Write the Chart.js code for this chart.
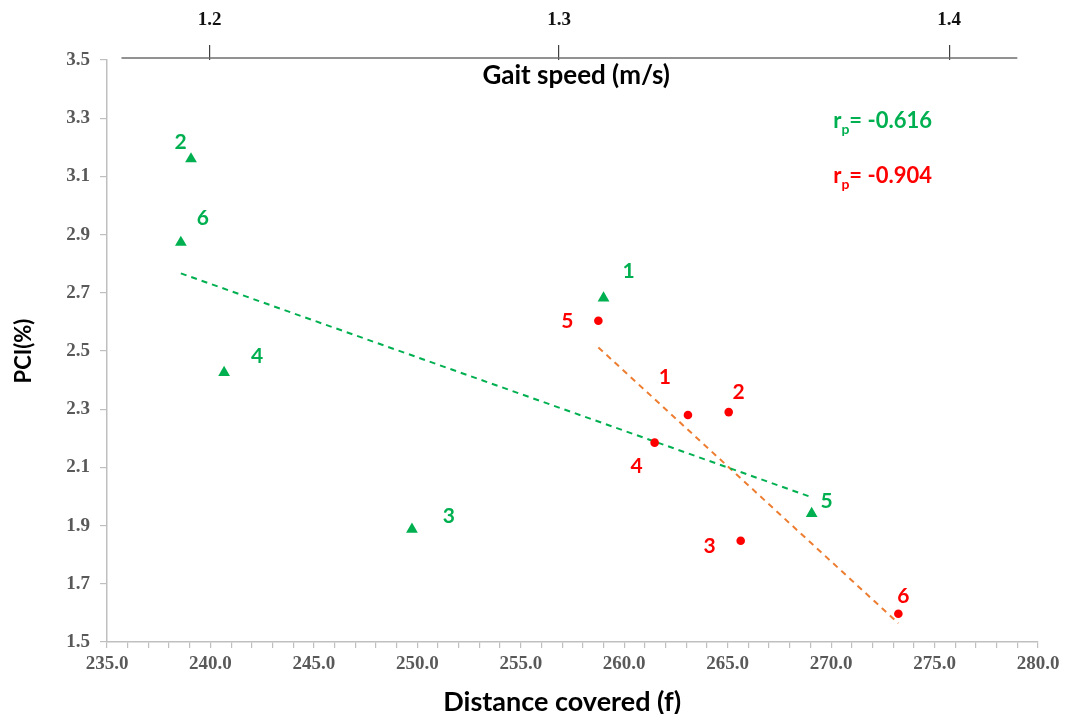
<!DOCTYPE html>
<html>
<head>
<meta charset="utf-8">
<script src="https://cdn.jsdelivr.net/npm/chart.js@4.4.1/dist/chart.umd.min.js"></script>
<style>
  html, body { margin: 0; padding: 0; background: #ffffff; }
  #wrap { width: 1077px; height: 714px; position: relative; }
</style>
</head>
<body>
<div id="wrap"><canvas id="c"></canvas></div>
<script>
// ---- data ----
const pointIds = ['1', '2', '3', '4', '5', '6'];
const greenDistance = [259.0, 239.06, 249.74, 240.66, 269.06, 238.57];
const greenPCI = [2.682, 3.160, 1.887, 2.426, 1.941, 2.873];
const redDistance = [263.08, 265.05, 265.63, 261.47, 258.75, 273.25];
const redPCI = [2.280, 2.290, 1.848, 2.185, 2.604, 1.597];
const gaitTickLabels = ['1.2', '1.3', '1.4'];
const gaitTickAt = [239.96, 256.85, 275.71];   // where the gait-speed ticks fall on the distance scale
const gaitAxisSpan = [235.7, 279.0];
const rGreen = '-0.616';
const rRed = '-0.904';

// ---- styles ----
const GREEN = '#00b050';
const RED = '#ff0000';
const ORANGE = '#ed7d31';
const greenLabelOffsets = [[25, -27], [-10.5, -17], [37, -13.5], [33, -16], [15, -12], [22, -24]];
const redLabelOffsets = [[-23, -38], [10, -19.5], [-31, 5.5], [-18, 24], [-31, 0], [5, -18]];

function toPoints(xs, ys) { return xs.map((x, i) => ({ x: x, y: ys[i] })); }
function trend(xs, ys) {
  const n = xs.length;
  const mx = xs.reduce((a, b) => a + b, 0) / n;
  const my = ys.reduce((a, b) => a + b, 0) / n;
  let sxy = 0, sxx = 0;
  for (let i = 0; i < n; i++) { sxy += (xs[i] - mx) * (ys[i] - my); sxx += (xs[i] - mx) * (xs[i] - mx); }
  const b = sxy / sxx, a = my - b * mx;
  const x0 = Math.min(...xs), x1 = Math.max(...xs);
  return [{ x: x0, y: a + b * x0 }, { x: x1, y: a + b * x1 }];
}

const labelPlugin = {
  id: 'labels',
  afterDatasetsDraw(chart) {
    const ctx = chart.ctx;
    const ca = chart.chartArea;
    ctx.save();
    ctx.textAlign = 'center';
    ctx.textBaseline = 'middle';
    ctx.font = 'bold 21px Lato';
    [[0, greenLabelOffsets, GREEN], [1, redLabelOffsets, RED]].forEach(([di, offs, col]) => {
      const meta = chart.getDatasetMeta(di);
      ctx.fillStyle = col;
      meta.data.forEach((el, i) => {
        ctx.fillText(pointIds[i], el.x + offs[i][0], el.y + offs[i][1]);
      });
    });
    // gait speed axis line
    const xs = chart.scales.x;
    ctx.strokeStyle = '#6e6e6e';
    ctx.lineWidth = 1.5;
    ctx.beginPath();
    ctx.moveTo(xs.getPixelForValue(gaitAxisSpan[0]), ca.top - 2);
    ctx.lineTo(xs.getPixelForValue(gaitAxisSpan[1]), ca.top - 2);
    ctx.stroke();
    // axis titles
    ctx.fillStyle = '#000000';
    ctx.font = 'bold 26px Lato';
    ctx.textAlign = 'center';
    ctx.fillText('Gait speed (m/s)', ca.left + ca.width * 0.504, ca.top + 16);
    ctx.font = 'bold 27px Lato';
    ctx.fillText('Distance covered (f)', ca.left + ca.width * 0.489, chart.height - 12);
    // correlation annotations
    function rp(txt, col, x, y) {
      ctx.fillStyle = col;
      ctx.textAlign = 'left';
      ctx.textBaseline = 'alphabetic';
      ctx.font = 'bold 22px Lato';
      ctx.fillText('r', x, y);
      let w = ctx.measureText('r').width;
      ctx.font = 'bold 14px Lato';
      ctx.fillText('p', x + w, y + 6);
      w += ctx.measureText('p').width;
      ctx.font = 'bold 22px Lato';
      ctx.fillText('= ' + txt, x + w, y);
    }
    const ax = ca.left + ca.width * 0.78;
    rp(rGreen, GREEN, ax, ca.top + 68);
    rp(rRed, RED, ax, ca.top + 123);
    ctx.restore();
  }
};

const tickFont = { family: 'Liberation Serif', weight: 'bold', size: 19 };
const titleFont = { family: 'Lato', weight: 'bold', size: 22 };

new Chart(document.getElementById('c'), {
  type: 'scatter',
  data: {
    datasets: [
      {
        label: 'green', data: toPoints(greenDistance, greenPCI), order: 0,
        pointStyle: 'triangle', radius: 6.8, backgroundColor: GREEN, borderColor: GREEN, borderWidth: 0
      },
      {
        label: 'red', data: toPoints(redDistance, redPCI), order: 0,
        pointStyle: 'circle', radius: 4.3, backgroundColor: RED, borderColor: RED, borderWidth: 0
      },
      {
        type: 'line', label: 'green trend', data: trend(greenDistance, greenPCI), order: 2,
        borderColor: GREEN, borderWidth: 2, borderDash: [6, 5], pointRadius: 0, fill: false
      },
      {
        type: 'line', label: 'red trend', data: trend(redDistance, redPCI), order: 2,
        borderColor: ORANGE, borderWidth: 2, borderDash: [6, 5], pointRadius: 0, fill: false
      }
    ]
  },
  options: {
    responsive: true,
    maintainAspectRatio: false,
    animation: false,
    layout: { padding: { left: 0, right: 39, top: 0, bottom: 0 } },
    plugins: { legend: { display: false }, tooltip: { enabled: false } },
    scales: {
      x: {
        type: 'linear', position: 'bottom', min: 235, max: 280,
        afterFit(s) { s.height = 72; },
        border: { display: true, color: '#bfbfbf', width: 1.5 },
        grid: { drawOnChartArea: false, color: '#bfbfbf', tickLength: 6, lineWidth: 1.2 },
        ticks: {
          stepSize: 1, autoSkip: false, maxRotation: 0, padding: 5,
          color: '#595959', font: tickFont,
          callback: (v) => (Math.round(v) % 5 === 0 ? Number(v).toFixed(1) : '')
        },
        title: { display: false, text: 'Distance covered (f)' }
      },
      x2: {
        type: 'linear', position: 'top', min: 235, max: 280,
        afterFit(s) { s.height = 60; },
        afterBuildTicks(s) { s.ticks = gaitTickAt.map(v => ({ value: v })); },
        border: { display: false },
        grid: { drawOnChartArea: false, color: '#404040', tickLength: 15, lineWidth: 1.2 },
        ticks: {
          autoSkip: false, maxRotation: 0, padding: 14, color: '#111111', font: tickFont,
          callback: (v, i) => gaitTickLabels[i]
        }
      },
      y: {
        type: 'linear', position: 'left', min: 1.5, max: 3.5,
        afterFit(s) { s.width = 107; },
        border: { display: true, color: '#bfbfbf', width: 1.5 },
        grid: { drawOnChartArea: false, color: '#bfbfbf', tickLength: 7, lineWidth: 1.2 },
        ticks: { stepSize: 0.2, padding: 10, color: '#595959', font: tickFont, callback: (v) => Number(v).toFixed(1) },
        title: { display: true, text: 'PCI(%)', color: '#000000', font: titleFont, padding: { top: 11, bottom: 0 } }
      }
    }
  },
  plugins: [labelPlugin]
});
</script>
</body>
</html>
